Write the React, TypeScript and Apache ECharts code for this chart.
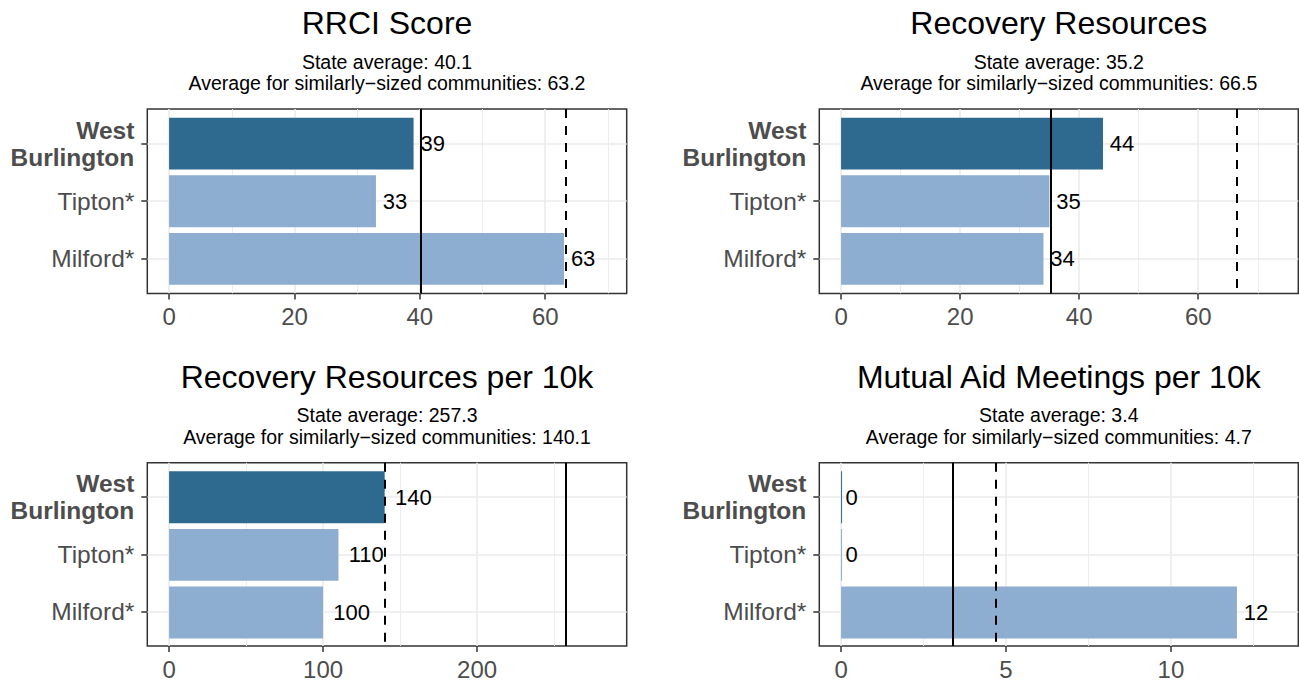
import React, { useEffect, useRef } from 'react';
import * as echarts from 'echarts';

// ---------- data ----------
const categories = ['West Burlington', 'Tipton*', 'Milford*'];
const panelTitles = ['RRCI Score', 'Recovery Resources', 'Recovery Resources per 10k', 'Mutual Aid Meetings per 10k'];
const rrciScore = [39, 33, 63];
const recoveryResources = [44, 35, 34];
const recoveryResourcesPer10k = [140, 110, 100];
const mutualAidPer10k = [0, 0, 12];
const stateAverages = [40.1, 35.2, 257.3, 3.4];
const similarAverages = [63.2, 66.5, 140.1, 4.7];
const majorTicks = [[0, 20, 40, 60], [0, 20, 40, 60], [0, 100, 200], [0, 5, 10]];
const minorTicks = [[10, 30, 50, 70], [10, 30, 50, 70], [50, 150, 250], [2.5, 7.5, 12.5]];
const panelValues = [rrciScore, recoveryResources, recoveryResourcesPer10k, mutualAidPer10k];

// ---------- style ----------
const FONT = '"Liberation Sans", Arial, Helvetica, sans-serif';
const DARK = '#2E6A8F';
const LIGHT = '#8DAED1';
const GRID = '#EBEBEB';
const AXIS_TEXT = '#4D4D4D';
const BORDER = '#333333';
const panelLefts = [147.3, 819.3];
const panelWidths = [479.4, 479.0];
const panelTops = [109, 462.7];
const panelHeight = 184.4;

function buildOption() {
  const grid: any[] = [];
  const xAxis: any[] = [];
  const yAxis: any[] = [];
  const series: any[] = [];
  const graphic: any[] = [];

  panelValues.forEach((vals, p) => {
    const col = p % 2;
    const row = Math.floor(p / 2);
    const left = panelLefts[col];
    const width = panelWidths[col];
    const top = panelTops[row];
    const unit = panelHeight / 3.2;
    const L = 1.1 * Math.max(...vals, stateAverages[p], similarAverages[p]);
    const min = -0.05 * L;
    const max = 1.05 * L;
    const cx = left + width / 2;

    // frame grid
    grid.push({ left, top, width, height: panelHeight, show: true, borderColor: BORDER, borderWidth: 1.5, backgroundColor: '#fff' });
    // bar grid
    grid.push({ left, top: top + 0.1 * unit, width, height: 3 * unit, show: false });

    xAxis.push({
      type: 'value', gridIndex: 2 * p, min, max, position: 'bottom',
      axisLine: { show: false, onZero: false },
      axisTick: { show: true, customValues: majorTicks[p], length: 6, lineStyle: { color: BORDER, width: 1.5 } },
      axisLabel: { show: true, customValues: majorTicks[p], margin: 11, fontSize: 24, color: AXIS_TEXT, fontFamily: FONT },
      splitLine: { show: true, lineStyle: { color: GRID, width: 1.6 } },
    });
    xAxis.push({
      type: 'value', gridIndex: 2 * p, min, max, position: 'bottom',
      axisLine: { show: false, onZero: false },
      axisTick: { show: false, customValues: minorTicks[p] },
      axisLabel: { show: false, customValues: minorTicks[p] },
      splitLine: { show: true, lineStyle: { color: GRID, width: 0.9 } },
    });
    xAxis.push({ type: 'value', gridIndex: 2 * p + 1, min, max, show: false, axisLine: { onZero: false }, splitLine: { show: false } });

    yAxis.push({
      type: 'value', gridIndex: 2 * p, min: -0.6, max: 2.6, inverse: true, position: 'left',
      axisLine: { show: false, onZero: false },
      axisTick: { show: true, customValues: [0, 1, 2], length: 6, lineStyle: { color: BORDER, width: 1.5 } },
      axisLabel: {
        show: true, customValues: [0, 1, 2], margin: 13, fontSize: 24.5, color: AXIS_TEXT, fontFamily: FONT,
        formatter: (v: number) => (v === 0 ? `{b|${categories[0].replace(' ', '\n')}}` : categories[v]),
        rich: { b: { fontWeight: 'bold', fontSize: 24.5, color: AXIS_TEXT, fontFamily: FONT, lineHeight: 27, align: 'right' } },
      },
      splitLine: { show: true, lineStyle: { color: GRID, width: 1.6 } },
    });
    yAxis.push({ type: 'category', gridIndex: 2 * p + 1, data: categories, inverse: true, show: false, axisLine: { onZero: false } });

    series.push({
      type: 'bar',
      xAxisIndex: 3 * p + 2,
      yAxisIndex: 2 * p + 1,
      barWidth: '90%',
      barMinHeight: 1,
      data: vals.map((v, i) => ({
        value: v,
        itemStyle: { color: i === 0 ? DARK : LIGHT },
        label: { distance: 0.28 * String(v).length * 0.556 * 22 },
      })),
      label: { show: true, position: 'right', fontSize: 22, color: '#000', fontFamily: FONT, formatter: '{c}' },
    });

    series.push({
      type: 'line',
      xAxisIndex: 3 * p,
      yAxisIndex: 2 * p,
      data: [],
      markLine: {
        silent: true,
        symbol: ['none', 'none'],
        label: { show: false },
        data: [
          { xAxis: stateAverages[p], lineStyle: { type: 'solid', color: '#000', width: 2 } },
          { xAxis: similarAverages[p], lineStyle: { type: [9, 8], color: '#000', width: 2 } },
        ],
      },
    });

    graphic.push({
      type: 'text', x: cx, y: top - 85.7,
      style: { text: panelTitles[p], fontSize: 32, fill: '#000', fontFamily: FONT, align: 'center', verticalAlign: 'middle' },
    });
    graphic.push({
      type: 'text', x: cx, y: top - 47.3,
      style: { text: `State average: ${stateAverages[p].toFixed(1)}`, fontSize: 19.5, fill: '#000', fontFamily: FONT, align: 'center', verticalAlign: 'middle' },
    });
    graphic.push({
      type: 'text', x: cx, y: top - 25.7,
      style: { text: `Average for similarly\u2212sized communities: ${similarAverages[p].toFixed(1)}`, fontSize: 19.5, fill: '#000', fontFamily: FONT, align: 'center', verticalAlign: 'middle' },
    });
  });

  return {
    animation: false,
    backgroundColor: '#fff',
    textStyle: { fontFamily: FONT },
    grid, xAxis, yAxis, series, graphic,
  };
}

export default function App() {
  const ref = useRef<HTMLDivElement>(null);
  useEffect(() => {
    if (!ref.current) return;
    const chart = echarts.init(ref.current, undefined, { renderer: 'svg' });
    chart.setOption(buildOption() as any);
    return () => chart.dispose();
  }, []);
  return <div ref={ref} style={{ position: 'absolute', left: 0, top: 0, width: 1299, height: 681, background: '#fff' }} />;
}
